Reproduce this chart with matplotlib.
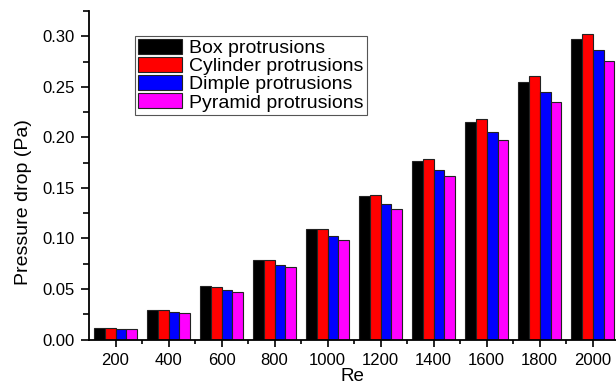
import matplotlib.pyplot as plt
import numpy as np
from matplotlib.ticker import MultipleLocator, FixedLocator, NullFormatter

plt.rcParams["font.family"] = ["Liberation Sans", "DejaVu Sans"]

re_values = ["200", "400", "600", "800", "1000", "1200", "1400", "1600", "1800", "2000"]
series_names = ["Box protrusions", "Cylinder protrusions",
                "Dimple protrusions", "Pyramid protrusions"]
box = [0.0117, 0.0295, 0.0527, 0.0790, 0.1090, 0.1420, 0.1770, 0.2147, 0.2547, 0.2972]
cylinder = [0.0117, 0.0295, 0.0523, 0.0790, 0.1090, 0.1428, 0.1787, 0.2183, 0.2602, 0.3022]
dimple = [0.0104, 0.0275, 0.0490, 0.0740, 0.1025, 0.1340, 0.1680, 0.2048, 0.2444, 0.2866]
pyramid = [0.0103, 0.0262, 0.0473, 0.0715, 0.0985, 0.1290, 0.1620, 0.1972, 0.2345, 0.2754]
colors = ["#000000", "#ff0000", "#0000ff", "#ff00ff"]

fig = plt.figure(figsize=(6.16, 3.87), dpi=100)
ax = fig.add_axes([0.1445, 0.1227, 0.8555, 0.8489])

x = np.arange(1, len(re_values) + 1)
width = 0.205
for i, (vals, name, c) in enumerate(zip([box, cylinder, dimple, pyramid], series_names, colors)):
    ax.bar(x + (i - 1.5) * width, vals, width, color=c, edgecolor="#222222",
           linewidth=0.8, label=name)

ax.set_xlim(0.5, 10.44)
ax.set_ylim(0, 0.325)

# major ticks at group centres, minor ticks at the group boundaries
ax.set_xticks(x)
ax.set_xticklabels(re_values)
ax.tick_params(axis="x", which="major", length=5, width=1.2, pad=5, labelsize=12)
ax.xaxis.set_minor_locator(FixedLocator(np.arange(1.5, 10.5, 1.0)))
ax.xaxis.set_minor_formatter(NullFormatter())
ax.tick_params(axis="x", which="minor", length=3, width=1.2, direction="out")

ax.yaxis.set_major_locator(MultipleLocator(0.05))
ax.yaxis.set_minor_locator(MultipleLocator(0.025))
ax.yaxis.set_major_formatter(plt.FuncFormatter(lambda v, _: f"{v:.2f}"))
ax.tick_params(axis="y", which="major", length=6, width=1.2, labelsize=12, pad=4)
ax.tick_params(axis="y", which="minor", length=4, width=1.2)

for side in ["top", "right"]:
    ax.spines[side].set_visible(False)
for side in ["left", "bottom"]:
    ax.spines[side].set_linewidth(1.3)

ax.set_ylabel("Pressure drop (Pa)", fontsize=14)
ax.yaxis.set_label_coords(-0.108, 0.417)
ax.set_xlabel("Re", fontsize=13.5)
ax.xaxis.set_label_coords(0.5, -0.088)

leg = ax.legend(loc="upper left", bbox_to_anchor=(0.087, 0.924), fontsize=14,
                handlelength=2.3, handleheight=0.8, handletextpad=0.35,
                labelspacing=0.0, borderpad=0.15, borderaxespad=0,
                fancybox=False, framealpha=1)
leg.get_frame().set_edgecolor("#555555")
leg.get_frame().set_linewidth(0.8)

fig.savefig("out.png", dpi=100)
